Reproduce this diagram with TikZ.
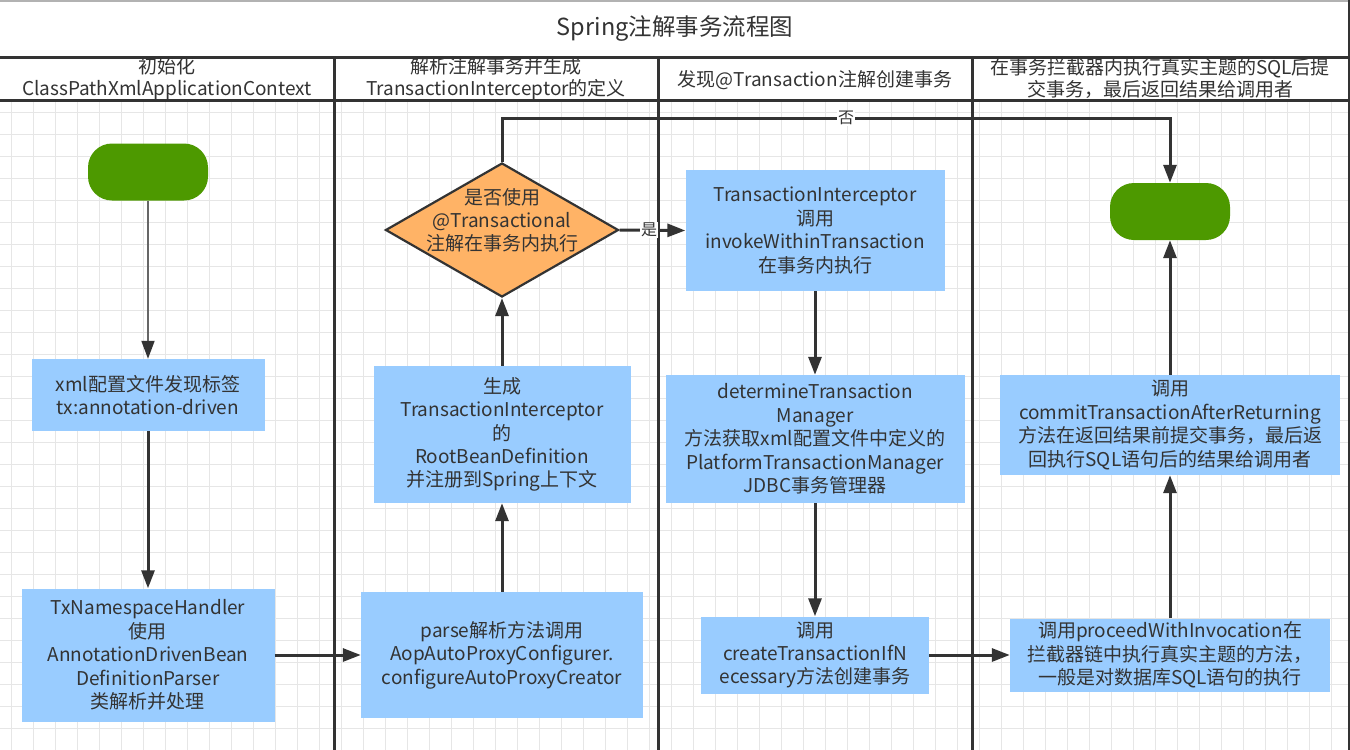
\documentclass[tikz,border=0pt]{standalone}
\usepackage{fontspec}
\setmainfont{Noto Sans CJK SC}
\usetikzlibrary{arrows.meta,shapes.geometric}
\definecolor{boxblue}{HTML}{99CCFF}
\definecolor{termgreen}{HTML}{4D9900}
\definecolor{decorange}{HTML}{FFB366}
\definecolor{inkc}{HTML}{333333}
\definecolor{gridc}{HTML}{E6E6E6}
\tikzset{
  gridline/.style={draw=gridc, line width=1pt},
  laneline/.style={draw=inkc, line width=3pt},
  procbox/.style={fill=boxblue, draw=none, inner sep=0pt, align=center, text=inkc,
    font=\fontsize{19}{23.4}\selectfont},
  termbox/.style={fill=termgreen, draw=none, rounded corners=24pt, minimum width=120pt, minimum height=57pt},
  decbox/.style={shape=diamond, fill=decorange, draw=inkc, line width=2.2pt, inner sep=0pt,
    minimum width=233pt, minimum height=134pt},
  dectext/.style={align=center, text=inkc, font=\fontsize{19}{23}\selectfont},
  arr/.style={draw=inkc, line width=3pt, -{Triangle[length=18pt,width=13pt]}},
  thinarr/.style={draw=inkc!75, line width=1.8pt, -{Triangle[length=18pt,width=13pt,color=inkc]}},
  lbl/.style={fill=white, inner sep=1pt, text=inkc, font=\fontsize{16}{18}\selectfont},
  headtext/.style={align=center, text=inkc, font=\fontsize{19}{22}\selectfont},
}
\begin{document}
\begin{tikzpicture}[x=1pt,y=-1pt]
\useasboundingbox (0,0) rectangle (1350,750);
\fill[white] (0,0) rectangle (1350,750);
% grid
\foreach \gx in {11,33,...,1349} \draw[gridline] (\gx,100) -- (\gx,750);
\foreach \gy in {112,134,...,750} \draw[gridline] (0,\gy) -- (1349,\gy);
% frame
\draw[draw=gray!60, line width=1.2pt] (0,1) -- (1349,1);
\draw[laneline] (0,57) -- (1349,57);
\draw[laneline] (0,100) -- (1349,100);
\draw[laneline] (334,57) -- (334,750);
\draw[laneline] (658,57) -- (658,750);
\draw[laneline] (972,57) -- (972,750);
\draw[draw=inkc, line width=2pt] (1349,0) -- (1349,750);
% title and headers
\node[text=inkc, font=\fontsize{23.5}{26}\selectfont] (title) at (675,29) {Spring注解事务流程图};
\node[headtext] (h1) at (167,79) {初始化\\ClassPathXmlApplicationContext};
\node[headtext] (h2) at (496,79) {解析注解事务并生成\\TransactionInterceptor的定义};
\node[headtext] (h3) at (815,80) {发现@Transaction注解创建事务};
\node[headtext] (h4) at (1160,78) {在事务拦截器内执行真实主题的SQL后提\\交事务，最后返回结果给调用者};
% nodes
\node[termbox] (start) at (148,172) {};
\node[procbox, minimum width=233pt, minimum height=72pt] (xml) at (148,395) {xml配置文件发现标签\\tx:annotation-driven};
\node[procbox, minimum width=253pt, minimum height=133pt] (txns) at (148,655) {TxNamespaceHandler\\使用\\AnnotationDrivenBean\\DefinitionParser\\类解析并处理};
\node[procbox, minimum width=282pt, minimum height=126pt] (parse) at (502,655) {parse解析方法调用\\AopAutoProxyConfigurer.\\configureAutoProxyCreator};
\node[procbox, minimum width=257pt, minimum height=137pt] (gen) at (502,434.5) {生成\\TransactionInterceptor\\的\\RootBeanDefinition\\并注册到Spring上下文};
\node[decbox] (dia) at (502,230) {};
\node[dectext] (diatext) at (502,220) {是否使用\\@Transactional\\注解在事务内执行};
\node[procbox, minimum width=259pt, minimum height=121pt] (ti) at (815,230.5) {TransactionInterceptor\\调用\\invokeWithinTransaction\\在事务内执行};
\node[procbox, minimum width=299pt, minimum height=128pt] (det) at (815,439) {determineTransaction\\Manager\\方法获取xml配置文件中定义的\\PlatformTransactionManager\\JDBC事务管理器};
\node[procbox, minimum width=228pt, minimum height=77pt] (create) at (815,655) {调用\\createTransactionIfN\\ecessary方法创建事务};
\node[procbox, minimum width=320pt, minimum height=73pt] (proceed) at (1170,655) {调用proceedWithInvocation在\\拦截器链中执行真实主题的方法，\\一般是对数据库SQL语句的执行};
\node[procbox, minimum width=340pt, minimum height=100pt] (commit) at (1170,425) {调用\\commitTransactionAfterReturning\\方法在返回结果前提交事务，最后返\\回执行SQL语句后的结果给调用者};
\node[termbox] (end) at (1170,211.5) {};
\coordinate (turnA) at (502,118);
\coordinate (turnB) at (1170,118);
% connectors
\draw[thinarr] (start) -- (xml);
\draw[arr] (xml) -- (txns);
\draw[arr] (txns) -- (parse);
\draw[arr] (parse) -- (gen);
\draw[arr] (gen) -- (dia);
\draw[arr] (dia.east) -- node[lbl, pos=0.45] (yes) {是} (ti.west);
\draw[arr] (dia.north) -- (turnA) -- node[lbl, pos=0.515] (no) {否} (turnB) -- (end.north);
\draw[arr] (ti) -- (det);
\draw[arr] (det) -- (create);
\draw[arr] (create) -- (proceed);
\draw[arr] (proceed) -- (commit);
\draw[arr] (commit) -- (end);
\end{tikzpicture}
\end{document}
